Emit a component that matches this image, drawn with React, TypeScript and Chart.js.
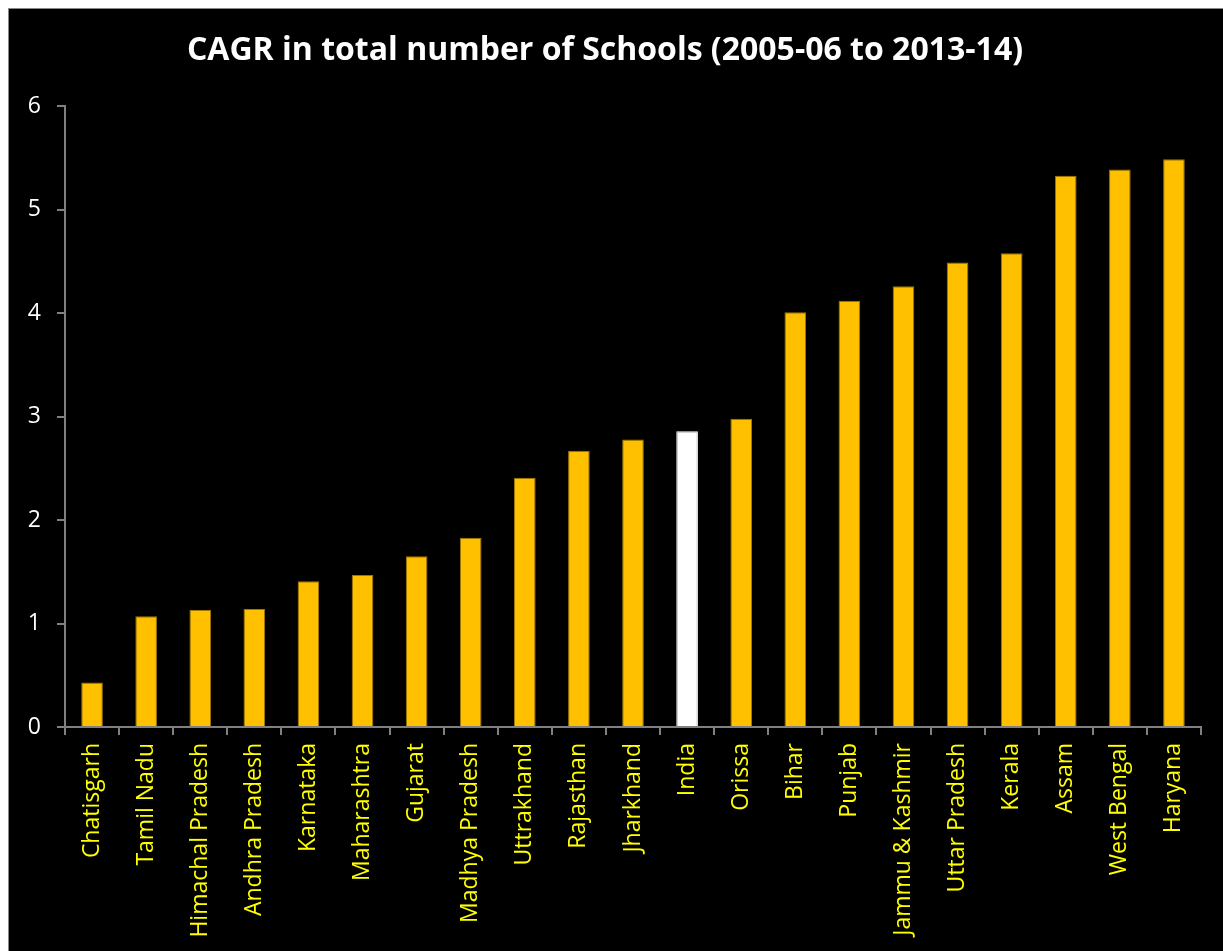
import React, { useEffect, useRef } from "react";
import { Chart, registerables } from "chart.js";

Chart.register(...registerables);

const categories = [
  "Chatisgarh", "Tamil Nadu", "Himachal Pradesh", "Andhra Pradesh", "Karnataka",
  "Maharashtra", "Gujarat", "Madhya Pradesh", "Uttrakhand", "Rajasthan",
  "Jharkhand", "India", "Orissa", "Bihar", "Punjab", "Jammu & Kashmir",
  "Uttar Pradesh", "Kerala", "Assam", "West Bengal", "Haryana",
];
const cagrValues = [
  0.43, 1.07, 1.13, 1.14, 1.41, 1.47, 1.65, 1.83, 2.41, 2.67,
  2.78, 2.86, 2.98, 4.01, 4.12, 4.26, 4.49, 4.58, 5.33, 5.39, 5.49,
];
const highlight = "India";
const titleText = "CAGR in total number of Schools (2005-06 to 2013-14)";

export default function App() {
  const ref = useRef<HTMLCanvasElement | null>(null);

  useEffect(() => {
    if (!ref.current) return;
    const font = "'Open Sans', 'DejaVu Sans', sans-serif";
    const chart = new Chart(ref.current, {
      type: "bar",
      data: {
        labels: categories,
        datasets: [
          {
            data: cagrValues,
            backgroundColor: categories.map((c) => (c === highlight ? "#FFFFFF" : "#FFC000")),
            borderColor: categories.map((c) => (c === highlight ? "#FFFFFF" : "#A07800")),
            borderWidth: 1,
            barPercentage: 0.4,
            categoryPercentage: 1,
          },
        ],
      },
      options: {
        animation: false,
        responsive: false,
        maintainAspectRatio: false,
        layout: { padding: { left: 0, right: 22, top: 0, bottom: 0 } },
        plugins: {
          legend: { display: false },
          tooltip: { enabled: false },
          title: {
            display: true,
            text: titleText,
            color: "#FFFFFF",
            font: { family: font, size: 32, weight: "bold" },
            padding: { top: 23, bottom: 36 },
          },
        },
        scales: {
          x: {
            grid: {
              display: true,
              offset: true,
              drawOnChartArea: false,
              drawTicks: true,
              tickLength: 8,
              color: "#808080",
              lineWidth: 2,
            },
            border: { display: true, color: "#808080", width: 2 },
            ticks: {
              color: "#FFFF00",
              font: { family: font, size: 23 },
              maxRotation: 90,
              minRotation: 90,
              padding: 8,
              autoSkip: false,
            },
            afterFit: (s: any) => {
              s.height = 224;
            },
          },
          y: {
            min: 0,
            max: 6,
            grid: {
              display: true,
              drawOnChartArea: false,
              drawTicks: true,
              tickLength: 8,
              color: "#808080",
              lineWidth: 2,
            },
            border: { display: true, color: "#808080", width: 2 },
            ticks: {
              stepSize: 1,
              color: "#FFFFFF",
              font: { family: font, size: 23 },
              padding: 16,
            },
            afterFit: (s: any) => {
              s.width = 56;
            },
          },
        },
      },
    });
    return () => chart.destroy();
  }, []);

  return (
    <div
      style={{
        position: "fixed",
        left: 8,
        top: 8,
        width: 1215,
        height: 943,
        boxSizing: "border-box",
        borderTop: "1px solid #888",
        borderLeft: "1px solid #888",
        background: "#000",
      }}
    >
      <canvas ref={ref} width={1214} height={942} style={{ display: "block" }} />
    </div>
  );
}
